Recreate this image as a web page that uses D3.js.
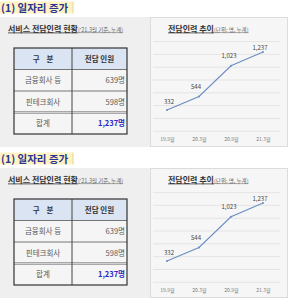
<!DOCTYPE html>
<html>
<head>
<meta charset="utf-8">
<script src="https://cdn.jsdelivr.net/npm/d3@7"></script>
<style>
  body { margin: 0; background: #fff; }
  svg { display: block; font-family: "Noto Sans CJK KR", sans-serif; }
</style>
</head>
<body>
<script>
const periods = ["19.9월", "20.3월", "20.9월", "21.3월"];
const staff = [332, 544, 1023, 1237];
const yTicks = [0, 200, 400, 600, 800, 1000, 1200, 1400];
const rowLabels = ["금융회사 등", "핀테크회사", "합계"];
const rowValues = [639, 598, 1237];
const headers = ["구    분", "전담 인원"];

const svg = d3.select("body").append("svg")
    .attr("width", 300)
    .attr("height", 308);

const fmt = d3.format(",");

function drawPanel(g) {
    // title
    g.append("rect").attr("x", 0).attr("y", 1.5).attr("width", 73).attr("height", 12)
        .attr("fill", "#fff3c4");
    g.append("line").attr("x1", 73).attr("x2", 73).attr("y1", 1.5).attr("y2", 13.5)
        .attr("stroke", "#e6d690");
    g.append("text").attr("x", 1).attr("y", 11.5)
        .attr("font-size", 10.5).attr("font-weight", "bold").attr("fill", "#2a3590")
        .text("(1) 일자리 증가");

    // panel background
    g.append("rect").attr("x", 0).attr("y", 17).attr("width", 288).attr("height", 130)
        .attr("fill", "#efefef");

    // left subtitle
    const st1 = g.append("text").attr("x", 8).attr("y", 31.5).attr("fill", "#333");
    st1.append("tspan").attr("font-size", 8).attr("font-weight", "bold")
        .attr("text-decoration", "underline").text("서비스 전담인력 현황");
    st1.append("tspan").attr("font-size", 5.5).attr("fill", "#666")
        .attr("text-decoration", "underline").text("('21.3월 기준, 누계)");

    // table
    const tx = 14, tw = 113, colX = 72, ty = 48, rh = 21.5;
    const rowsY = d3.range(4).map(i => ty + i * rh);
    g.append("rect").attr("x", tx).attr("y", ty).attr("width", tw).attr("height", rh)
        .attr("fill", "#dbe4f3");
    g.append("rect").attr("x", tx).attr("y", ty + rh).attr("width", tw).attr("height", rh * 3)
        .attr("fill", "#f5f5f5");
    g.selectAll(".hd").data(headers).enter().append("text")
        .attr("x", (d, i) => i === 0 ? (tx + colX) / 2 : (colX + tx + tw) / 2)
        .attr("y", ty + rh / 2 + 3)
        .attr("text-anchor", "middle").attr("font-size", 7.5).attr("font-weight", "bold")
        .style("white-space", "pre")
        .attr("fill", "#333").text(d => d);
    g.selectAll(".lb").data(rowLabels).enter().append("text")
        .attr("x", (tx + colX) / 2)
        .attr("y", (d, i) => rowsY[i + 1] + rh / 2 + 3)
        .attr("text-anchor", "middle").attr("font-size", 7.5).attr("fill", "#5a5a5a")
        .text(d => d);
    g.selectAll(".vl").data(rowValues).enter().append("text")
        .attr("x", tx + tw - 2)
        .attr("y", (d, i) => rowsY[i + 1] + rh / 2 + 3)
        .attr("text-anchor", "end").attr("font-size", 7.5)
        .attr("font-weight", (d, i) => i === 2 ? "bold" : "normal")
        .attr("fill", (d, i) => i === 2 ? "#2b2bc8" : "#5a5a5a")
        .text(d => fmt(d) + "명");
    // grid lines
    [1, 2].forEach(i => {
        g.append("line").attr("x1", tx).attr("x2", tx + tw)
            .attr("y1", rowsY[i]).attr("y2", rowsY[i]).attr("stroke", "#555").attr("stroke-width", 0.8);
    });
    g.append("line").attr("x1", tx).attr("x2", tx + tw)
        .attr("y1", rowsY[3] - 0.8).attr("y2", rowsY[3] - 0.8).attr("stroke", "#555").attr("stroke-width", 0.6);
    g.append("line").attr("x1", tx).attr("x2", tx + tw)
        .attr("y1", rowsY[3] + 0.8).attr("y2", rowsY[3] + 0.8).attr("stroke", "#555").attr("stroke-width", 0.6);
    g.append("line").attr("x1", colX).attr("x2", colX)
        .attr("y1", ty).attr("y2", ty + rh * 4).attr("stroke", "#444").attr("stroke-width", 1);
    g.append("rect").attr("x", tx).attr("y", ty).attr("width", tw).attr("height", rh * 4)
        .attr("fill", "none").attr("stroke", "#333").attr("stroke-width", 1.2);

    // chart box
    g.append("rect").attr("x", 150.5).attr("y", 17.5).attr("width", 137).attr("height", 129)
        .attr("fill", "#f6f6f6").attr("stroke", "#dcdcdc");
    const st2 = g.append("text").attr("x", 168).attr("y", 31.5).attr("fill", "#333");
    st2.append("tspan").attr("font-size", 8).attr("font-weight", "bold")
        .attr("text-decoration", "underline").text("전담인력 추이");
    st2.append("tspan").attr("font-size", 5.5).attr("fill", "#666")
        .attr("text-decoration", "underline").text("(단위: 명, 누계)");

    const x = d3.scalePoint().domain(periods).range([167, 263]);
    const y = d3.scaleLinear().domain([0, 1400]).range([131.3, 41.6]);

    g.selectAll(".grid").data(yTicks).enter().append("line")
        .attr("x1", 153).attr("x2", 280)
        .attr("y1", d => y(d)).attr("y2", d => y(d))
        .attr("stroke", "#e0e0e0").attr("stroke-width", 0.8);

    const xAxis = g.append("g").attr("transform", "translate(0,131.3)")
        .call(d3.axisBottom(x).tickSize(0).tickPadding(6));
    xAxis.select(".domain").remove();
    xAxis.selectAll("text").attr("font-size", 5).attr("fill", "#777")
        .attr("font-family", "\"Noto Sans CJK KR\", sans-serif");

    const line = d3.line().x((d, i) => x(periods[i])).y(d => y(d));
    g.append("path").datum(staff).attr("d", line)
        .attr("fill", "none").attr("stroke", "#6a8fc4").attr("stroke-width", 1.1);
    g.selectAll(".pt").data(staff).enter().append("circle")
        .attr("cx", (d, i) => x(periods[i])).attr("cy", d => y(d)).attr("r", 1)
        .attr("fill", "#6a8fc4");
    g.selectAll(".lab").data(staff).enter().append("text")
        .attr("x", (d, i) => x(periods[i]) + [2, -3, -2, -3][i])
        .attr("y", (d, i) => y(d) - [6, 7, 8, 2.5][i])
        .attr("text-anchor", "middle").attr("font-size", 6).attr("fill", "#444")
        .text(d => fmt(d));
}

drawPanel(svg.append("g"));
drawPanel(svg.append("g").attr("transform", "translate(0,151)"));
</script>
</body>
</html>
